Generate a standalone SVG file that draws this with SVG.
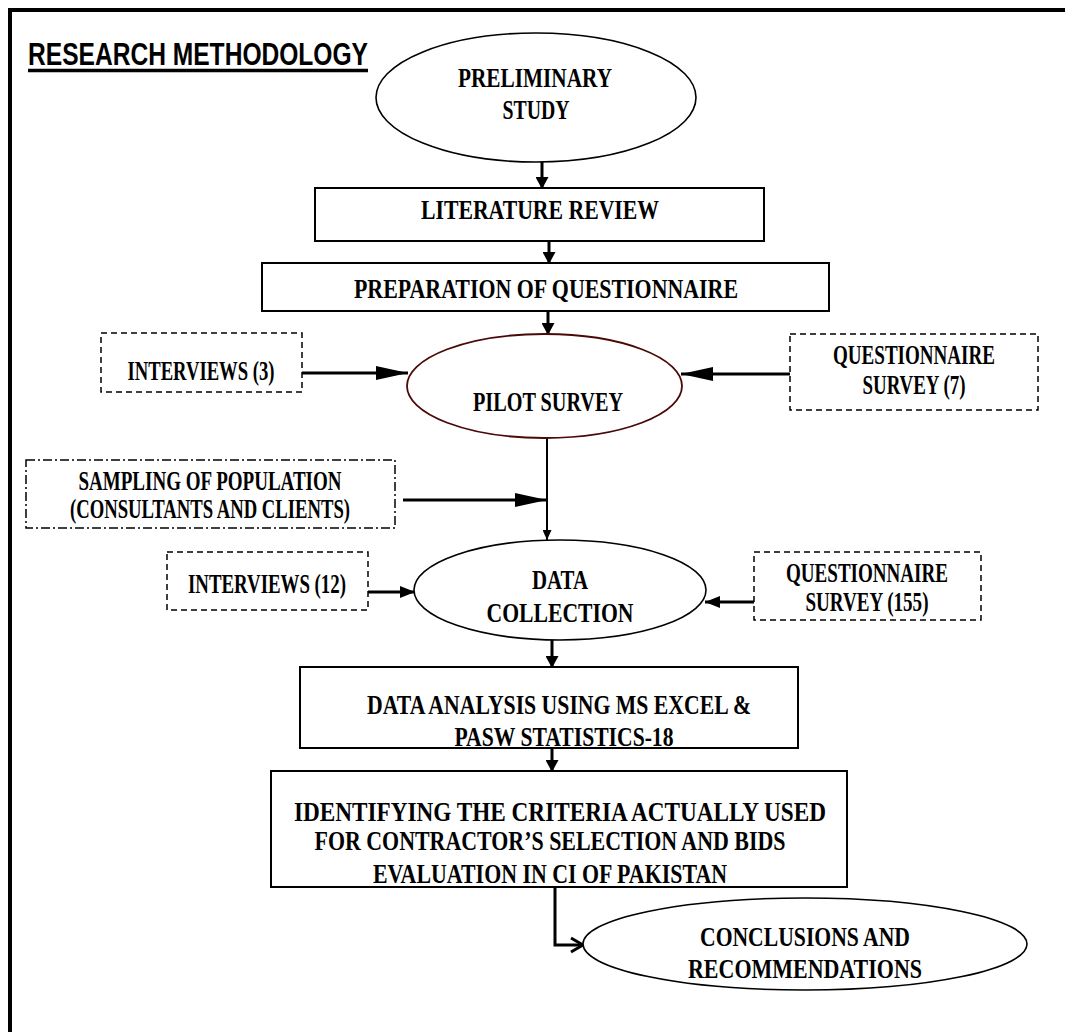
<svg xmlns="http://www.w3.org/2000/svg" width="1065" height="1032" viewBox="0 0 1065 1032">
<style>
.t{font-family:"Liberation Serif","Times New Roman",serif;font-weight:bold;font-size:27px;fill:#000;text-anchor:middle}
.box{fill:#fff;stroke:#000;stroke-width:2}
.dash{fill:#fff;stroke:#000;stroke-width:1.5;stroke-dasharray:6 4}
.dashdot{fill:#fff;stroke:#000;stroke-width:1.5;stroke-dasharray:9 3 2 3}
.ell{fill:#fff;stroke:#000;stroke-width:1.6}
.c{fill:none;stroke:#000;stroke-width:3}
.cthin{fill:none;stroke:#000;stroke-width:2}
</style>
<defs>
<marker id="ah" markerUnits="userSpaceOnUse" markerWidth="12" markerHeight="13" refX="12" refY="6.5" orient="auto"><path d="M0,0 L12,6.5 L0,13 z" fill="#000"/></marker>
<marker id="ahLong" markerUnits="userSpaceOnUse" markerWidth="32" markerHeight="14" refX="32" refY="7" orient="auto"><path d="M0,0 L32,7 L0,14 z" fill="#000"/></marker>
<marker id="ahMed" markerUnits="userSpaceOnUse" markerWidth="15" markerHeight="12" refX="15" refY="6" orient="auto"><path d="M0,0 L15,6 L0,12 z" fill="#000"/></marker>
<marker id="ahSmall" markerUnits="userSpaceOnUse" markerWidth="10" markerHeight="9" refX="10" refY="4.5" orient="auto"><path d="M0,0 L10,4.5 L0,9 z" fill="#000"/></marker>
<marker id="ahOpen" markerUnits="userSpaceOnUse" markerWidth="16" markerHeight="18" refX="14" refY="9" orient="auto"><path d="M2,2 L14,9 L2,16" fill="none" stroke="#000" stroke-width="3"/></marker>
</defs>
<rect width="1065" height="1032" fill="#fff"/>
<path d="M10,1032 V10 H1065" fill="none" stroke="#000" stroke-width="4"/>

<g id="title">
<text x="28" y="65" font-family="Liberation Sans, Arial, sans-serif" font-weight="bold" font-size="31" textLength="340" lengthAdjust="spacingAndGlyphs">RESEARCH  METHODOLOGY</text>
<line x1="28" y1="70.5" x2="368" y2="70.5" stroke="#000" stroke-width="3.5"/>
</g>

<g id="connectors">
<line class="c" x1="542" y1="162" x2="542" y2="189" marker-end="url(#ah)"/>
<line class="c" x1="549" y1="241" x2="549" y2="264" marker-end="url(#ah)"/>
<line class="c" x1="548" y1="311" x2="548" y2="335" marker-end="url(#ah)"/>
<line class="c" x1="302" y1="373" x2="408" y2="373" marker-end="url(#ahLong)"/>
<line class="c" x1="790" y1="374" x2="681" y2="374" marker-end="url(#ahLong)"/>
<line class="cthin" x1="547" y1="437" x2="547" y2="540" marker-end="url(#ahSmall)"/>
<line class="c" x1="403" y1="500" x2="547" y2="500" marker-end="url(#ahLong)"/>
<line class="c" x1="368" y1="592" x2="415" y2="592" marker-end="url(#ahMed)"/>
<line class="c" x1="754" y1="602" x2="705" y2="602" marker-end="url(#ahMed)"/>
<line class="c" x1="552" y1="640" x2="552" y2="668" marker-end="url(#ah)"/>
<line class="c" x1="552" y1="748" x2="552" y2="772" marker-end="url(#ah)"/>
<path class="c" d="M555,887 V945 H583" marker-end="url(#ahOpen)"/>
</g>

<g id="preliminary">
<ellipse class="ell" cx="536" cy="97.5" rx="160" ry="64.5"/>
<text class="t" x="535" y="87" font-size="28" textLength="154" lengthAdjust="spacingAndGlyphs">PRELIMINARY</text>
<text class="t" x="536" y="119" font-size="28" textLength="67" lengthAdjust="spacingAndGlyphs">STUDY</text>
</g>

<g id="literature">
<rect class="box" x="315" y="188" width="449" height="53"/>
<text class="t" x="540" y="219" font-size="26" textLength="238" lengthAdjust="spacingAndGlyphs">LITERATURE  REVIEW</text>
</g>

<g id="preparation">
<rect class="box" x="262" y="263" width="567" height="48"/>
<text class="t" x="546" y="298" font-size="28" textLength="384" lengthAdjust="spacingAndGlyphs">PREPARATION OF QUESTIONNAIRE</text>
</g>

<g id="interviews3">
<rect class="dash" x="101" y="333" width="201" height="59"/>
<text class="t" x="201" y="380" textLength="147" lengthAdjust="spacingAndGlyphs">INTERVIEWS (3)</text>
</g>

<g id="pilot">
<ellipse cx="544.5" cy="386" rx="137.5" ry="52" fill="#fff" stroke="#4a0808" stroke-width="1.8"/>
<text class="t" x="548" y="411" textLength="150" lengthAdjust="spacingAndGlyphs">PILOT SURVEY</text>
</g>

<g id="questionnaire7">
<rect class="dash" x="790" y="334" width="248" height="76"/>
<text class="t" x="914" y="364" font-size="25" textLength="162" lengthAdjust="spacingAndGlyphs">QUESTIONNAIRE</text>
<text class="t" x="914" y="394" font-size="25" textLength="103" lengthAdjust="spacingAndGlyphs">SURVEY (7)</text>
</g>

<g id="sampling">
<rect class="dashdot" x="26" y="460" width="369" height="68"/>
<text class="t" x="210" y="490" font-size="24" textLength="263" lengthAdjust="spacingAndGlyphs">SAMPLING OF POPULATION</text>
<text class="t" x="210" y="518" font-size="24" textLength="280" lengthAdjust="spacingAndGlyphs">(CONSULTANTS AND CLIENTS)</text>
</g>

<g id="interviews12">
<rect class="dash" x="167" y="552" width="201" height="58"/>
<text class="t" x="267" y="593" font-size="26" textLength="158" lengthAdjust="spacingAndGlyphs">INTERVIEWS (12)</text>
</g>

<g id="datacollection">
<ellipse class="ell" cx="560" cy="590" rx="146" ry="50"/>
<text class="t" x="560" y="589" font-size="26" textLength="56" lengthAdjust="spacingAndGlyphs">DATA</text>
<text class="t" x="560" y="622" font-size="28" textLength="147" lengthAdjust="spacingAndGlyphs">COLLECTION</text>
</g>

<g id="questionnaire155">
<rect class="dash" x="754" y="552" width="227" height="68"/>
<text class="t" x="867" y="582" font-size="24" textLength="162" lengthAdjust="spacingAndGlyphs">QUESTIONNAIRE</text>
<text class="t" x="867" y="611" font-size="24" textLength="123" lengthAdjust="spacingAndGlyphs">SURVEY (155)</text>
</g>

<g id="dataanalysis">
<rect class="box" x="300" y="667" width="498" height="81"/>
<text class="t" x="559" y="714" font-size="26" textLength="384" lengthAdjust="spacingAndGlyphs">DATA  ANALYSIS USING MS EXCEL &amp;</text>
<text class="t" x="564" y="746" font-size="25" textLength="219" lengthAdjust="spacingAndGlyphs">PASW STATISTICS-18</text>
</g>

<g id="identifying">
<rect class="box" x="271" y="771" width="576" height="116"/>
<text class="t" x="560" y="821" font-size="28" textLength="532" lengthAdjust="spacingAndGlyphs">IDENTIFYING THE CRITERIA  ACTUALLY USED</text>
<text class="t" x="550" y="850" font-size="26" textLength="471" lengthAdjust="spacingAndGlyphs">FOR CONTRACTOR’S SELECTION AND BIDS</text>
<text class="t" x="550" y="883" font-size="25" textLength="354" lengthAdjust="spacingAndGlyphs">EVALUATION  IN CI OF PAKISTAN</text>
</g>

<g id="conclusions">
<ellipse class="ell" cx="805" cy="944" rx="222" ry="46"/>
<text class="t" x="805" y="946" font-size="27" textLength="210" lengthAdjust="spacingAndGlyphs">CONCLUSIONS AND</text>
<text class="t" x="805" y="978" font-size="28" textLength="234" lengthAdjust="spacingAndGlyphs">RECOMMENDATIONS</text>
</g>
</svg>
